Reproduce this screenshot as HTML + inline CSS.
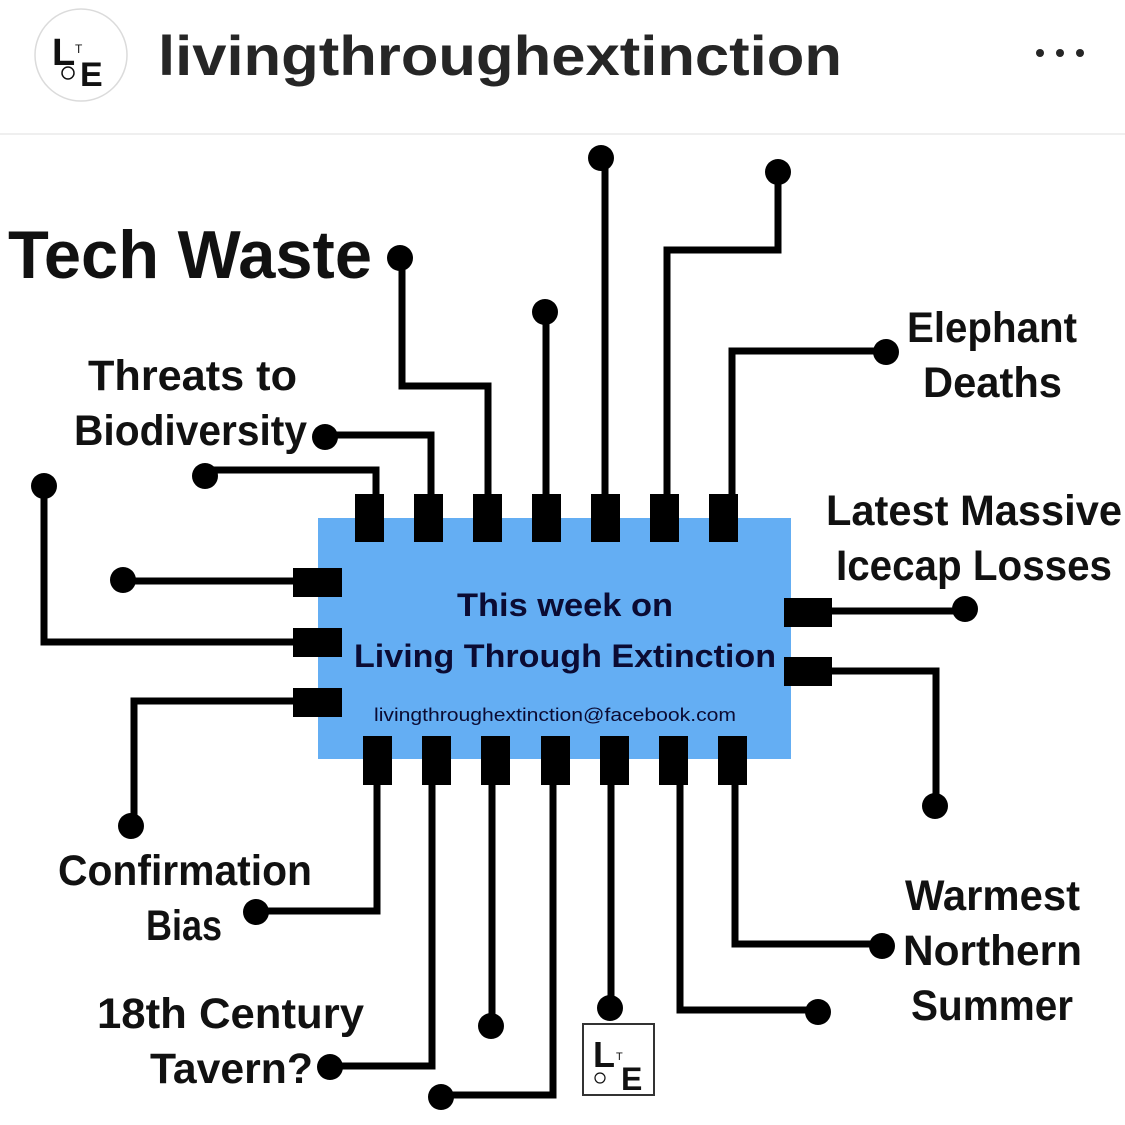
<!DOCTYPE html>
<html><head><meta charset="utf-8"><style>
html,body{margin:0;padding:0;background:#fff;width:1125px;height:1125px;overflow:hidden}
svg{display:block}
</style></head><body>
<svg width="1125" height="1125" viewBox="0 0 1125 1125" xmlns="http://www.w3.org/2000/svg" font-family="Liberation Sans, sans-serif">
<rect width="1125" height="1125" fill="#fff"/>
<!-- header -->
<circle cx="81" cy="55" r="46" fill="#fff" stroke="#dbdbdb" stroke-width="1.5"/>
<text x="52" y="65" font-size="38" font-weight="bold" fill="#111">L</text>
<text x="75" y="53" font-size="12" fill="#111">T</text>
<text x="80" y="86" font-size="34" font-weight="bold" fill="#111">E</text>
<circle cx="68" cy="73" r="6" fill="none" stroke="#111" stroke-width="1.5"/>
<text x="158" y="75" font-size="56" font-weight="bold" fill="#262626" textLength="684" lengthAdjust="spacingAndGlyphs">livingthroughextinction</text>
<circle cx="1040" cy="53" r="4" fill="#262626"/><circle cx="1060" cy="53" r="4" fill="#262626"/><circle cx="1080" cy="53" r="4" fill="#262626"/>
<line x1="0" y1="134" x2="1125" y2="134" stroke="#efefef" stroke-width="2"/>

<!-- chip -->
<rect x="318" y="518" width="473" height="241" fill="#64aef3"/>
<g fill="#000">
<rect x="355" y="494" width="29" height="48"/><rect x="414" y="494" width="29" height="48"/><rect x="473" y="494" width="29" height="48"/><rect x="532" y="494" width="29" height="48"/><rect x="591" y="494" width="29" height="48"/><rect x="650" y="494" width="29" height="48"/><rect x="709" y="494" width="29" height="48"/>
<rect x="363" y="736" width="29" height="49"/><rect x="422" y="736" width="29" height="49"/><rect x="481" y="736" width="29" height="49"/><rect x="541" y="736" width="29" height="49"/><rect x="600" y="736" width="29" height="49"/><rect x="659" y="736" width="29" height="49"/><rect x="718" y="736" width="29" height="49"/>
<rect x="293" y="568" width="49" height="29"/><rect x="293" y="628" width="49" height="29"/><rect x="293" y="688" width="49" height="29"/>
<rect x="784" y="598" width="48" height="29"/><rect x="784" y="657" width="48" height="29"/>
</g>
<g fill="none" stroke="#000" stroke-width="7" stroke-linejoin="miter">
<polyline points="376,494 376,470 205,470"/>
<polyline points="431,494 431,435 325,435"/>
<polyline points="488,494 488,386 402,386 402,258"/>
<polyline points="546,494 546,312"/>
<polyline points="605,494 605,158"/>
<polyline points="667,494 667,250 778,250 778,172"/>
<polyline points="732,494 732,351 886,351"/>
<polyline points="293,581 123,581"/>
<polyline points="293,642 44,642 44,486"/>
<polyline points="293,701 134,701 134,826"/>
<polyline points="832,611 965,611"/>
<polyline points="832,671 936,671 936,806"/>
<polyline points="377,785 377,911 256,911"/>
<polyline points="432,785 432,1066 330,1066"/>
<polyline points="492,785 492,1026"/>
<polyline points="553,785 553,1095 441,1095"/>
<polyline points="611,785 611,1008"/>
<polyline points="680,785 680,1010 818,1010"/>
<polyline points="735,785 735,944 882,944"/>
</g>
<g fill="#000">
<circle cx="205" cy="476" r="13"/><circle cx="325" cy="437" r="13"/><circle cx="400" cy="258" r="13"/><circle cx="545" cy="312" r="13"/><circle cx="601" cy="158" r="13"/><circle cx="778" cy="172" r="13"/><circle cx="886" cy="352" r="13"/>
<circle cx="123" cy="580" r="13"/><circle cx="44" cy="486" r="13"/><circle cx="131" cy="826" r="13"/>
<circle cx="965" cy="609" r="13"/><circle cx="935" cy="806" r="13"/>
<circle cx="256" cy="912" r="13"/><circle cx="330" cy="1067" r="13"/><circle cx="491" cy="1026" r="13"/><circle cx="441" cy="1097" r="13"/><circle cx="610" cy="1008" r="13"/><circle cx="818" cy="1012" r="13"/><circle cx="882" cy="946" r="13"/>
</g>

<!-- chip text -->
<g fill="#0b0b33" font-weight="bold">
<text x="457" y="616" font-size="32" textLength="216" lengthAdjust="spacingAndGlyphs">This week on</text>
<text x="354" y="667" font-size="32" textLength="422" lengthAdjust="spacingAndGlyphs">Living Through Extinction</text>
<text x="374" y="721" font-size="18" font-weight="normal" textLength="362" lengthAdjust="spacingAndGlyphs">livingthroughextinction@facebook.com</text>
</g>

<!-- labels -->
<g fill="#111" font-weight="bold" font-size="43">
<text x="8" y="278" font-size="68" textLength="364" lengthAdjust="spacingAndGlyphs">Tech Waste</text>
<text x="88" y="390" textLength="209" lengthAdjust="spacingAndGlyphs">Threats to</text>
<text x="74" y="445" textLength="233" lengthAdjust="spacingAndGlyphs">Biodiversity</text>
<text x="907" y="342" textLength="170" lengthAdjust="spacingAndGlyphs">Elephant</text>
<text x="923" y="397" textLength="139" lengthAdjust="spacingAndGlyphs">Deaths</text>
<text x="826" y="525" textLength="296" lengthAdjust="spacingAndGlyphs">Latest Massive</text>
<text x="836" y="580" textLength="276" lengthAdjust="spacingAndGlyphs">Icecap Losses</text>
<text x="58" y="885" textLength="254" lengthAdjust="spacingAndGlyphs">Confirmation</text>
<text x="146" y="940" textLength="76" lengthAdjust="spacingAndGlyphs">Bias</text>
<text x="97" y="1028" textLength="267" lengthAdjust="spacingAndGlyphs">18th Century</text>
<text x="150" y="1083" textLength="163" lengthAdjust="spacingAndGlyphs">Tavern?</text>
<text x="905" y="910" textLength="175" lengthAdjust="spacingAndGlyphs">Warmest</text>
<text x="903" y="965" textLength="179" lengthAdjust="spacingAndGlyphs">Northern</text>
<text x="911" y="1020" textLength="162" lengthAdjust="spacingAndGlyphs">Summer</text>
</g>

<!-- bottom logo -->
<rect x="583" y="1024" width="71" height="71" fill="#fff" stroke="#333" stroke-width="2"/>
<text x="593" y="1067" font-size="36" font-weight="bold" fill="#111">L</text>
<text x="616" y="1060" font-size="11" fill="#111">T</text>
<text x="621" y="1090" font-size="32" font-weight="bold" fill="#111">E</text>
<circle cx="600" cy="1078" r="5" fill="none" stroke="#111" stroke-width="1.2"/>
</svg>
</body></html>
